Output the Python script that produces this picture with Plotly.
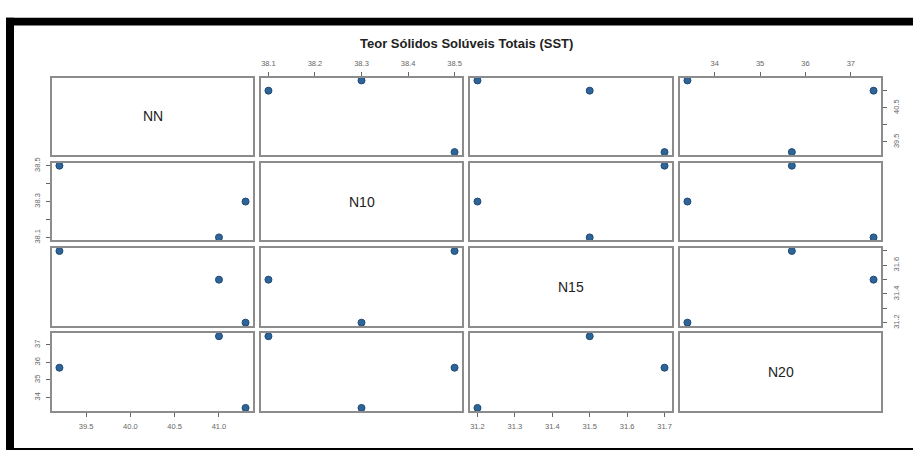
import plotly.graph_objects as go

# ---- data ----
var_names = ["NN", "N10", "N15", "N20"]
NN = [39.2, 41.0, 41.3]
N10 = [38.5, 38.1, 38.3]
N15 = [31.7, 31.5, 31.2]
N20 = [35.7, 37.5, 33.4]
title_text = "Teor Sólidos Solúveis Totais (SST)"

tick_vals = {
    "NN": [39.5, 40.0, 40.5, 41.0],
    "N10": [38.1, 38.2, 38.3, 38.4, 38.5],
    "N15": [31.2, 31.3, 31.4, 31.5, 31.6, 31.7],
    "N20": [34, 35, 36, 37],
}
tick_text_full = {
    "NN": ["39.5", "40.0", "40.5", "41.0"],
    "N10": ["38.1", "38.2", "38.3", "38.4", "38.5"],
    "N15": ["31.2", "31.3", "31.4", "31.5", "31.6", "31.7"],
    "N20": ["34", "35", "36", "37"],
}
tick_text_sparse = {
    "NN": ["39.5", "", "40.5", ""],
    "N10": ["38.1", "", "38.3", "", "38.5"],
    "N15": ["31.2", "", "31.4", "", "31.6", ""],
    "N20": ["34", "35", "36", "37"],
}

values = {"NN": NN, "N10": N10, "N15": N15, "N20": N20}

W, H = 913, 453
col_px = [(52, 253), (261, 462), (470, 672), (680, 881)]
row_px = [(73, 152), (160, 239), (247, 326), (334, 413)]


def rng(v):
    lo, hi = min(v), max(v)
    d = (hi - lo) * 0.04
    return [lo - d, hi + d]


fig = go.Figure()
layout = {}
border = "#8c8c8c"
tickfont = dict(family="Liberation Sans, Arial, sans-serif", size=7.5, color="#666666")
tickstyle = dict(ticks="outside", ticklen=4, tickwidth=1, tickcolor="#666666",
                 showticklabels=True, tickfont=tickfont, ticklabelstandoff=3)

n = len(var_names)
for r in range(n):
    for c in range(n):
        k = r * n + c + 1
        xa = "xaxis" if k == 1 else f"xaxis{k}"
        ya = "yaxis" if k == 1 else f"yaxis{k}"
        xref = "x" if k == 1 else f"x{k}"
        yref = "y" if k == 1 else f"y{k}"
        x0, x1 = col_px[c]
        y0, y1 = row_px[r]
        xdom = [x0 / W, x1 / W]
        ydom = [1 - y1 / H, 1 - y0 / H]
        vx, vy = var_names[c], var_names[r]
        base_x = dict(domain=xdom, anchor=yref, showgrid=False, zeroline=False,
                      showline=True, mirror=True, linecolor=border, linewidth=2,
                      ticks="", showticklabels=False, fixedrange=True)
        base_y = dict(domain=ydom, anchor=xref, showgrid=False, zeroline=False,
                      showline=True, mirror=True, linecolor=border, linewidth=2,
                      ticks="", showticklabels=False, fixedrange=True)
        if r == c:
            base_x["range"] = [0, 1]
            base_y["range"] = [0, 1]
            layout[xa] = base_x
            layout[ya] = base_y
            fig.add_trace(go.Scatter(x=[], y=[], xaxis=xref, yaxis=yref, showlegend=False))
            fig.add_annotation(x=0.5, y=0.5, xref=xref, yref=yref, text=vx,
                               showarrow=False,
                               font=dict(family="Liberation Sans, Arial, sans-serif",
                                         size=14, color="#222222"))
            continue
        base_x["range"] = rng(values[vx])
        base_y["range"] = rng(values[vy])
        # x ticks
        if r == 0 and c % 2 == 1:
            base_x.update(side="top", tickvals=tick_vals[vx], ticktext=tick_text_full[vx],
                          **tickstyle)
        if r == n - 1 and c % 2 == 0:
            base_x.update(side="bottom", tickvals=tick_vals[vx], ticktext=tick_text_full[vx],
                          **tickstyle)
        # y ticks
        if c == 0 and r % 2 == 1:
            base_y.update(side="left", tickvals=tick_vals[vy], ticktext=tick_text_sparse[vy],
                          tickangle=-90, **tickstyle)
        if c == n - 1 and r % 2 == 0:
            base_y.update(side="right", tickvals=tick_vals[vy], ticktext=tick_text_sparse[vy],
                          tickangle=-90, **tickstyle)
        layout[xa] = base_x
        layout[ya] = base_y
        fig.add_trace(go.Scatter(
            x=values[vx], y=values[vy], xaxis=xref, yaxis=yref, mode="markers",
            showlegend=False, cliponaxis=False, hoverinfo="x+y",
            marker=dict(size=7, color="#2f6497", line=dict(color="#1d4a78", width=1)),
        ))

# black frame of the screenshot
shapes = [
    dict(type="rect", xref="paper", yref="paper", x0=6 / W, x1=1, y0=1 - 20 / H, y1=1 - 12 / H,
         fillcolor="black", line=dict(width=0), layer="above"),
    dict(type="rect", xref="paper", yref="paper", x0=6 / W, x1=14 / W, y0=0, y1=1 - 12 / H,
         fillcolor="black", line=dict(width=0), layer="above"),
    dict(type="rect", xref="paper", yref="paper", x0=6 / W, x1=1, y0=0, y1=2 / H,
         fillcolor="black", line=dict(width=0), layer="above"),
]

fig.update_layout(
    **layout,
    width=W, height=H,
    margin=dict(l=0, r=0, t=0, b=0),
    paper_bgcolor="white", plot_bgcolor="white",
    shapes=shapes,
    annotations=list(fig.layout.annotations) + [
        dict(x=466 / W, y=1 - 38 / H, xref="paper", yref="paper", text="<b>" + title_text + "</b>",
             showarrow=False, xanchor="center", yanchor="middle",
             font=dict(family="Liberation Sans, Arial, sans-serif", size=13, color="#222222"))
    ],
)

fig.write_html("out.html")
